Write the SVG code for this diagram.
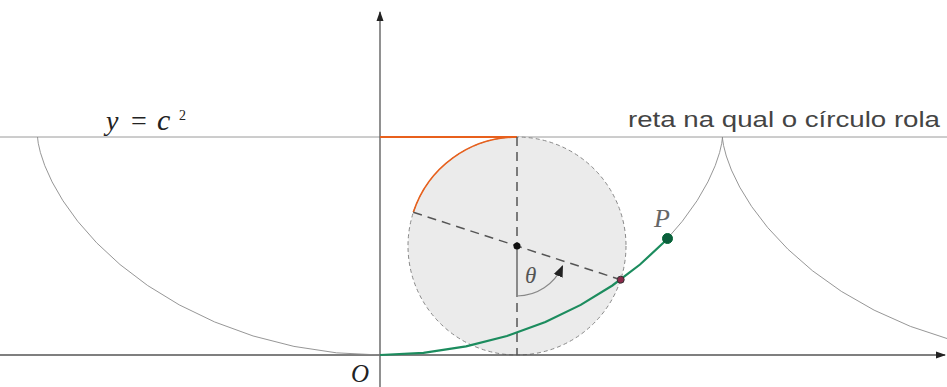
<svg xmlns="http://www.w3.org/2000/svg" width="947" height="387" viewBox="0 0 947 387">
<defs>
<style>
.cyc{fill:none;stroke:#8a8a8a;stroke-width:0.9}
.axis{fill:none;stroke:#555;stroke-width:1.3}
.dash{fill:none;stroke:#555;stroke-width:1.5;stroke-dasharray:9 6}
.serif{font-family:"Liberation Serif","DejaVu Serif",serif;font-style:italic}
</style>
<marker id="ah" viewBox="0 0 10 10" refX="9" refY="5" markerWidth="10" markerHeight="10" markerUnits="userSpaceOnUse" orient="auto">
<path d="M0,1.5 L10,5 L0,8.5 Z" fill="#222"/>
</marker>
<marker id="ahs" viewBox="0 0 10 10" refX="9" refY="5" markerWidth="12" markerHeight="12" markerUnits="userSpaceOnUse" orient="auto">
<path d="M0,1 L10,5 L0,9 Z" fill="#222"/>
</marker>
</defs>
<rect width="947" height="387" fill="#fff"/>
<g id="roll-line">
<line x1="0" y1="137" x2="947" y2="137" stroke="#9a9a9a" stroke-width="1"/>
</g>
<g id="circle">
<circle cx="517" cy="246" r="109" fill="#ebebeb" stroke="#888" stroke-width="1" stroke-dasharray="4 3"/>
</g>
<g id="connectors">
<line class="axis" x1="0" y1="355" x2="945" y2="355" marker-end="url(#ah)"/>
<line class="axis" x1="380" y1="387" x2="380" y2="12" marker-end="url(#ah)"/>
<path class="cyc" d="M37.57,137 L37.62,138.09 L38.28,143.3 L40.41,152.6 L44.77,165.62 L52.07,181.85 L62.89,200.65 L77.66,221.24 L96.64,242.82 L119.99,264.53 L147.61,285.5 L179.28,304.89 L214.6,321.94 L253.06,335.96 L293.95,346.4 L336.54,352.83 L380,355"/>
<path class="cyc" d="M667.5,238.46 L682.34,221.24 L697.11,200.65 L707.93,181.85 L715.23,165.62 L719.59,152.6 L721.72,143.3 L722.38,138.09 L722.43,137"/>
<path class="cyc" d="M722.43,137 L722.57,139.17 L723.59,145.6 L726.29,156.04 L731.43,170.06 L739.71,187.11 L751.64,206.5 L767.62,227.47 L787.87,249.18 L812.49,270.76 L841.32,291.35 L874.1,310.15 L910.4,326.38 L949.64,339.4"/>
<line x1="380" y1="137" x2="517" y2="137" stroke="#e8601c" stroke-width="2"/>
<path d="M517,137 A109,109 0 0 0 413.3,212.3" fill="none" stroke="#e8601c" stroke-width="1.6"/>
<line class="dash" x1="517" y1="137" x2="517" y2="246"/>
<line x1="517" y1="246" x2="517" y2="297" stroke="#555" stroke-width="1.3"/>
<line class="dash" x1="517" y1="303" x2="517" y2="355"/>
<line class="dash" x1="413.3" y1="212.3" x2="620.7" y2="279.7"/>
<path d="M517,296 A50,50 0 0 0 562.5,266" fill="none" stroke="#888" stroke-width="1.2" marker-end="url(#ahs)"/>
<path d="M380,355 L423.46,352.83 L466.05,346.4 L506.94,335.96 L545.4,321.94 L580.72,304.89 L612.39,285.5 L640.01,264.53 L663.36,242.82 L667.5,238.46" fill="none" stroke="#1c8c5e" stroke-width="2.2"/>
</g>
<g id="center-dot"><circle cx="517" cy="246" r="3.5" fill="#111"/></g>
<g id="contact-point"><circle cx="620.7" cy="279.7" r="3.5" fill="#8b2a4a" stroke="#333" stroke-width="1"/></g>
<g id="point-P">
<circle cx="667.5" cy="238.5" r="5" fill="#0b5e3c" stroke="#063" stroke-width="1"/>
<text class="serif" x="654" y="227" font-size="26" fill="#666">P</text>
</g>
<g id="label-O"><text class="serif" x="351" y="382" font-size="25" fill="#222">O</text></g>
<g id="label-theta"><text class="serif" x="525" y="283" font-size="23" fill="#555">θ</text></g>
<g id="label-y">
<text font-family="Liberation Serif, DejaVu Serif, serif" font-size="28" fill="#222" y="130"><tspan x="106" font-style="italic">y</tspan><tspan x="131">=</tspan><tspan x="157" font-style="italic" font-size="30">c</tspan><tspan x="179" y="120" font-size="14">2</tspan></text>
</g>
<g id="label-line">
<text x="628" y="127" font-family="Liberation Sans, Arial, sans-serif" font-size="22" fill="#444" textLength="312" lengthAdjust="spacingAndGlyphs">reta na qual o círculo rola</text>
</g>
</svg>
